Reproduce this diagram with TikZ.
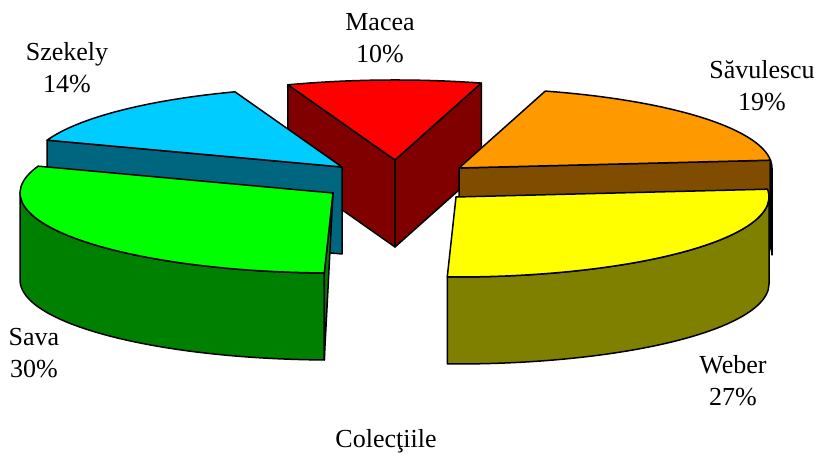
\documentclass[tikz,border=0pt]{standalone}
\usepackage{fontspec}
\setmainfont{Liberation Serif}
\usepackage{xcolor}

\definecolor{maceaTop}{RGB}{255,0,0}
\definecolor{maceaSide}{RGB}{128,0,0}
\definecolor{szekelyTop}{RGB}{0,204,255}
\definecolor{szekelySide}{RGB}{0,102,128}
\definecolor{savulescuTop}{RGB}{255,153,0}
\definecolor{savulescuSide}{RGB}{128,77,0}
\definecolor{weberTop}{RGB}{255,255,0}
\definecolor{weberSide}{RGB}{128,128,0}
\definecolor{savaTop}{RGB}{0,255,0}
\definecolor{savaSide}{RGB}{0,128,0}

\def\pieRx{313pt}
\def\pieRy{80pt}

\begin{document}
\begin{tikzpicture}[x=1pt, y=1pt,
    slice/.style={draw=black, line width=1.5pt, line join=round},
    lbl/.style={align=center, inner sep=0pt, font=\fontsize{26}{32}\selectfont}]
\useasboundingbox (0,0) rectangle (820,454);

% exploded slice centres
\coordinate (mac) at (395,294);
\coordinate (sze) at (342,287);
\coordinate (savu) at (459,286);
\coordinate (sava) at (333,261);
\coordinate (web) at (456,257);

% Macea
\path (mac) ++(110:313pt and 80pt) coordinate (macL);
\path (mac) ++(74:313pt and 80pt) coordinate (macR);
\draw[slice, fill=maceaSide] (macL) -- (mac) -- ++(0,-87) -- ([yshift=-87pt]macL) -- cycle;
\draw[slice, fill=maceaSide] (macR) -- (mac) -- ++(0,-87) -- ([yshift=-87pt]macR) -- cycle;
\draw[slice, fill=maceaTop] (mac) -- (macL) arc[start angle=110, end angle=74, x radius=\pieRx, y radius=\pieRy] -- cycle;

% Szekely
\path (sze) ++(110:313pt and 80pt) coordinate (szeR);
\path (sze) ++(160.4:313pt and 80pt) coordinate (szeL);
\draw[slice, fill=szekelySide] (szeL) -- (sze) -- ++(0,-87) -- ([yshift=-87pt]szeL) -- cycle;
\draw[slice, fill=szekelyTop] (sze) -- (szeR) arc[start angle=110, end angle=160.4, x radius=\pieRx, y radius=\pieRy] -- cycle;

% Savulescu
\path (savu) ++(74:313pt and 80pt) coordinate (savuL);
\path (savu) ++(5.6:313pt and 80pt) coordinate (savuR);
\draw[slice, fill=savulescuSide] (savu) -- (savuR) -- ([yshift=-87pt]savuR) -- ([yshift=-87pt]savu) -- cycle;
\draw[slice, fill=savulescuSide] (savuR) arc[start angle=5.6, end angle=0, x radius=\pieRx, y radius=\pieRy] -- ++(0,-87) arc[start angle=0, end angle=5.6, x radius=\pieRx, y radius=\pieRy] -- cycle;
\draw[slice, fill=savulescuTop] (savu) -- (savuL) arc[start angle=74, end angle=5.6, x radius=\pieRx, y radius=\pieRy] -- cycle;

% Sava
\path (sava) ++(160.4:313pt and 80pt) coordinate (savaL);
\path (sava) ++(180:313pt and 80pt) coordinate (savaW);
\path (sava) ++(268.4:313pt and 80pt) coordinate (savaR);
\draw[slice, fill=savaSide] (savaW) arc[start angle=180, end angle=268.4, x radius=\pieRx, y radius=\pieRy] -- ++(0,-87) arc[start angle=268.4, end angle=180, x radius=\pieRx, y radius=\pieRy] -- cycle;
\draw[slice, fill=savaSide] (sava) -- (savaR) -- ([yshift=-87pt]savaR) -- cycle;
\draw[slice, fill=savaTop] (sava) -- (savaL) arc[start angle=160.4, end angle=268.4, x radius=\pieRx, y radius=\pieRy] -- cycle;

% Weber
\path (web) ++(5.6:313pt and 80pt) coordinate (webR);
\path (web) ++(0:313pt and 80pt) coordinate (webE);
\draw[slice, fill=weberSide] (webE) arc[start angle=0, end angle=-91.6, x radius=\pieRx, y radius=\pieRy] -- ++(0,-87) arc[start angle=-91.6, end angle=0, x radius=\pieRx, y radius=\pieRy] -- cycle;
\draw[slice, fill=weberTop] (web) -- (webR) arc[start angle=5.6, end angle=-91.6, x radius=\pieRx, y radius=\pieRy] -- cycle;

% labels
\node[lbl] (maceaLbl) at (380,416) {Macea\\10\%};
\node[lbl] (szekelyLbl) at (67,386) {Szekely\\14\%};
\node[lbl] (savulescuLbl) at (762,368) {Săvulescu\\19\%};
\node[lbl] (weberLbl) at (733,73) {Weber\\27\%};
\node[lbl] (savaLbl) at (34,101) {Sava\\30\%};
\node[lbl, anchor=base] (axisLbl) at (386,6) {Colecţiile};
\end{tikzpicture}
\end{document}
